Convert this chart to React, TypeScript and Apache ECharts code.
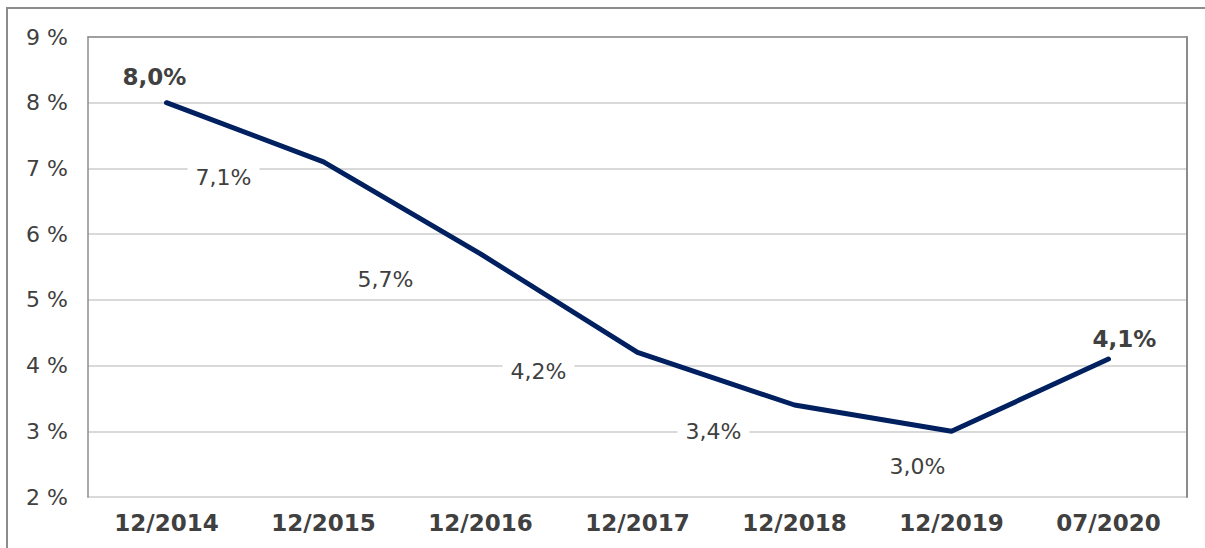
import React, { useEffect, useRef } from "react";
import * as echarts from "echarts";

const categories = ["12/2014", "12/2015", "12/2016", "12/2017", "12/2018", "12/2019", "07/2020"];
const values = [8.0, 7.1, 5.7, 4.2, 3.4, 3.0, 4.1];
const labelTexts = ["8,0%", "7,1%", "5,7%", "4,2%", "3,4%", "3,0%", "4,1%"];
const boldLabel = [true, false, false, false, false, false, true];
const labelOffsets: [number, number][] = [
  [-12, -26],
  [-100, 16],
  [-95, 26],
  [-99, 19],
  [-81, 26],
  [-34, 35],
  [16, -20],
];

const FONT = "'DejaVu Sans', Verdana, sans-serif";
const TEXT = "#404040";

export default function App() {
  const ref = useRef<HTMLDivElement>(null);
  useEffect(() => {
    if (!ref.current) return;
    const chart = echarts.init(ref.current, undefined, { renderer: "svg" });
    chart.setOption({
      animation: false,
      backgroundColor: "#ffffff",
      textStyle: { fontFamily: FONT },
      graphic: [
        {
          type: "rect",
          shape: { x: 7, y: 8, width: 1260, height: 600 },
          style: { fill: "none", stroke: "#8c8c8c", lineWidth: 2 },
          silent: true,
          z: 100,
        },
      ],
      grid: {
        left: 88,
        right: 18,
        top: 37,
        bottom: 51,
        show: false,
      },
      xAxis: [
        {
          type: "category",
          data: categories,
          boundaryGap: true,
          axisLine: { show: true, lineStyle: { color: "#d9d9d9", width: 2 } },
          axisTick: { show: false },
          axisLabel: {
            color: TEXT,
            fontFamily: FONT,
            fontSize: 23,
            fontWeight: "bold",
            margin: 14,
          },
          splitLine: { show: false },
          z: 3,
        },
        {
          type: "category",
          position: "top",
          data: categories,
          axisLine: { show: true, lineStyle: { color: "#8c8c8c", width: 1.5 } },
          axisTick: { show: false },
          axisLabel: { show: false },
          splitLine: { show: false },
          z: 4,
        },
      ],
      yAxis: [
        {
          type: "value",
          min: 2,
          max: 9,
          interval: 1,
          axisLine: { show: true, lineStyle: { color: "#8c8c8c", width: 1.5 } },
          axisTick: { show: false },
          axisLabel: {
            color: TEXT,
            fontFamily: FONT,
            fontSize: 22,
            margin: 20,
            formatter: "{value} %",
          },
          splitLine: { show: true, lineStyle: { color: "#d9d9d9", width: 2 } },
          z: 4,
        },
        {
          type: "value",
          position: "right",
          min: 2,
          max: 9,
          interval: 1,
          axisLine: { show: true, lineStyle: { color: "#8c8c8c", width: 2 } },
          axisTick: { show: false },
          axisLabel: { show: false },
          splitLine: { show: false },
          z: 4,
        },
      ],
      series: [
        {
          type: "line",
          data: values.map((v, i) => ({
            value: v,
            label: {
              show: true,
              position: "inside",
              offset: labelOffsets[i],
              formatter: labelTexts[i],
              color: TEXT,
              fontFamily: FONT,
              fontSize: boldLabel[i] ? 23 : 22,
              fontWeight: boldLabel[i] ? "bold" : "normal",
              backgroundColor: boldLabel[i] ? "transparent" : "#ffffff",
              padding: [2, 8],
            },
          })),
          symbol: "circle",
          symbolSize: 2,
          showSymbol: true,
          itemStyle: { color: "#002060" },
          lineStyle: { color: "#002060", width: 5, cap: "round", join: "round" },
          z: 5,
        },
      ],
    });
    return () => chart.dispose();
  }, []);
  return (
    <div
      ref={ref}
      style={{ position: "absolute", left: 0, top: 0, width: 1205, height: 548 }}
    />
  );
}
